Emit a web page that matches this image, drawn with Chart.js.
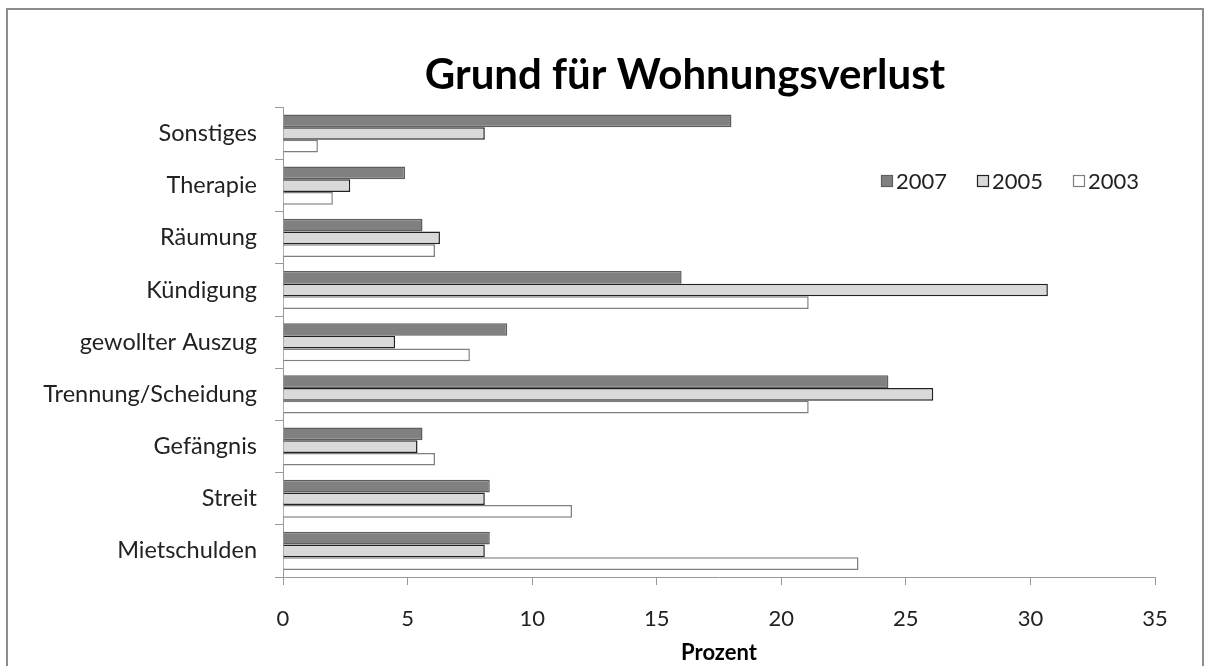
<!DOCTYPE html>
<html>
<head>
<meta charset="utf-8">
<script src="https://cdn.jsdelivr.net/npm/chart.js@4"></script>
<style>
  body { margin: 0; background: #fff; }
  #wrap { position: relative; width: 1210px; height: 666px; overflow: hidden; }
  #frame { position: absolute; left: 6px; top: 8px; width: 1194px; height: 700px; border: 2px solid #8c8c8c; }
  canvas { position: absolute; left: 0; top: 0; }
</style>
</head>
<body>
<div id="wrap">
  <div id="frame"></div>
  <canvas id="lossChart" width="1210" height="666"></canvas>
</div>
<script>
const categories = ["Sonstiges", "Therapie", "Räumung", "Kündigung", "gewollter Auszug", "Trennung/Scheidung", "Gefängnis", "Streit", "Mietschulden"];
const years = ["2007", "2005", "2003"];
const v2007 = [18.0, 4.9, 5.6, 16.0, 9.0, 24.3, 5.6, 8.3, 8.3];
const v2005 = [8.1, 2.7, 6.3, 30.7, 4.5, 26.1, 5.4, 8.1, 8.1];
const v2003 = [1.4, 2.0, 6.1, 21.1, 7.5, 21.1, 6.1, 11.6, 23.1];
const xTicks = [0, 5, 10, 15, 20, 25, 30, 35];

const FONT = "Lato, 'Open Sans', sans-serif";

// title sits a bit right of the page centre in the original
const shiftTitle = {
    id: "shiftTitle",
    beforeDraw(chart) {
        chart.titleBlock.left = 215;
        chart.titleBlock.right = 1155;
    }
};

// legend drawn inside the plot, like the original
const insideLegend = {
    id: "insideLegend",
    afterDraw(chart) {
        const ctx = chart.ctx;
        let x = 881;
        const y = 181;
        ctx.save();
        ctx.font = "22px " + FONT;
        ctx.textBaseline = "middle";
        chart.data.datasets.forEach(ds => {
            ctx.fillStyle = ds.backgroundColor;
            ctx.strokeStyle = ds.borderColor;
            ctx.lineWidth = 1.2;
            ctx.fillRect(x, y - 6, 12, 12);
            ctx.strokeRect(x + 0.5, y - 5.5, 11, 11);
            ctx.fillStyle = "#222";
            ctx.fillText(ds.label, x + 15, y + 1);
            x += 96;
        });
        ctx.restore();
    }
};

new Chart(document.getElementById("lossChart"), {
    type: "bar",
    data: {
        labels: categories,
        datasets: [
            { label: years[0], data: v2007, backgroundColor: "#808080", borderColor: "#5e5e5e", borderWidth: 1.5 },
            { label: years[1], data: v2005, backgroundColor: "#d9d9d9", borderColor: "#222222", borderWidth: 1.5 },
            { label: years[2], data: v2003, backgroundColor: "#ffffff", borderColor: "#7f7f7f", borderWidth: 1.5 }
        ]
    },
    options: {
        indexAxis: "y",
        responsive: false,
        animation: false,
        datasets: { bar: { categoryPercentage: 0.73, barPercentage: 1.0 } },
        layout: { padding: { left: 20, right: 55, top: 50, bottom: 0 } },
        plugins: {
            legend: { display: false },
            tooltip: { enabled: false },
            title: {
                display: true,
                text: "Grund für Wohnungsverlust",
                color: "#000",
                font: { family: FONT, size: 42, weight: "bold" },
                padding: { top: 0, bottom: 7 }
            }
        },
        scales: {
            x: {
                min: 0,
                max: 35,
                afterBuildTicks: s => { s.ticks = xTicks.map(v => ({ value: v })); },
                afterFit: s => { s.height = 89; },
                grid: { drawOnChartArea: false, tickLength: 8, color: "#999" },
                border: { color: "#999" },
                ticks: { color: "#222", padding: 21, font: { family: FONT, size: 22 } },
                title: {
                    display: true,
                    text: "Prozent",
                    color: "#000",
                    padding: { top: 0, bottom: 0 },
                    font: { family: FONT, size: 22, weight: "bold" }
                }
            },
            y: {
                afterFit: s => { s.width = 263; },
                grid: { drawOnChartArea: false, tickLength: 8, color: "#999", offset: true },
                border: { color: "#999" },
                ticks: { color: "#222", padding: 18, font: { family: FONT, size: 23.5 } }
            }
        }
    },
    plugins: [shiftTitle, insideLegend]
});
</script>
</body>
</html>
